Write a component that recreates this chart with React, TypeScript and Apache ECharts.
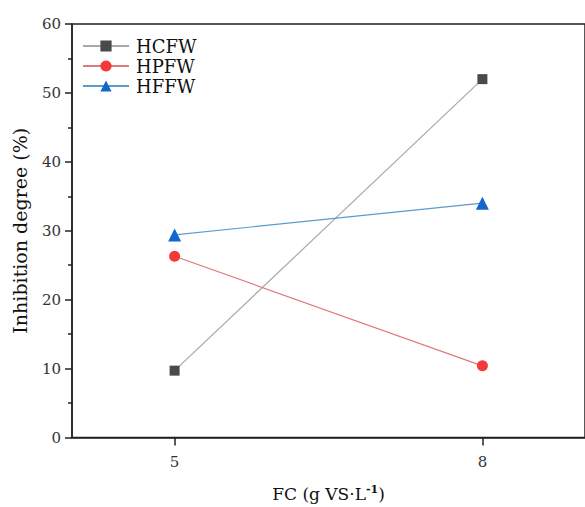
import React, { useEffect, useRef } from "react";
import * as echarts from "echarts";

const xValues = [5, 8];
const hcfw = [9.7, 52.0];
const hpfw = [26.3, 10.4];
const hffw = [29.4, 34.0];
const seriesNames = ["HCFW", "HPFW", "HFFW"];
const xTickValues = [5, 8];

const FONT = "DejaVu Serif";

export default function App() {
  const ref = useRef<HTMLDivElement>(null);
  useEffect(() => {
    if (!ref.current) return;
    const chart = echarts.init(ref.current, null, { renderer: "svg" });
    const pairs = (ys: number[]) => xValues.map((x, i) => [x, ys[i]]);
    chart.setOption({
      animation: false,
      backgroundColor: "#ffffff",
      textStyle: { fontFamily: FONT },
      grid: {
        left: 72,
        top: 24,
        width: 524,
        height: 422,
        show: true,
        borderColor: "#222",
        borderWidth: 1.5,
        backgroundColor: "transparent",
      },
      legend: {
        left: 82,
        top: 37,
        padding: 0,
        orient: "vertical",
        itemWidth: 46,
        itemHeight: 14,
        itemGap: 2,
        data: seriesNames,
        textStyle: { fontFamily: FONT, fontSize: 18, color: "#111", padding: [0, 0, 0, 2] },
      },
      xAxis: {
        type: "value",
        min: 4,
        max: 9,
        interval: 1,
        name: "FC (g VS·L{sup|-1})",
        nameLocation: "middle",
        nameGap: 46,
        nameTextStyle: {
          fontFamily: FONT,
          fontSize: 17,
          color: "#111",
          rich: {
            sup: { fontFamily: FONT, fontSize: 11, fontWeight: "bold", color: "#111", verticalAlign: "top", padding: [0, 0, 9, 0] },
          },
        },
        axisLine: { show: true, lineStyle: { color: "#222", width: 1.5 } },
        axisTick: { show: true, length: 8, customValues: xTickValues, lineStyle: { color: "#222", width: 1.5 } },
        axisLabel: { customValues: xTickValues, fontFamily: FONT, fontSize: 15, color: "#333", margin: 17 },
        splitLine: { show: false },
      },
      yAxis: {
        type: "value",
        min: 0,
        max: 60,
        interval: 10,
        name: "Inhibition degree (%)",
        nameLocation: "middle",
        nameGap: 43,
        nameTextStyle: { fontFamily: FONT, fontSize: 19, color: "#111" },
        axisLine: { show: true, lineStyle: { color: "#222", width: 1.5 } },
        axisTick: { show: true, length: 7, lineStyle: { color: "#222", width: 1.5 } },
        minorTick: { show: true, splitNumber: 2, length: 4, lineStyle: { color: "#222", width: 1.5 } },
        axisLabel: { fontFamily: FONT, fontSize: 15, color: "#333", margin: 11 },
        splitLine: { show: false },
      },
      series: [
        {
          name: seriesNames[0],
          type: "line",
          data: pairs(hcfw),
          symbol: "rect",
          symbolSize: 10,
          itemStyle: { color: "#4a4a4a" },
          lineStyle: { color: "#a8a8a8", width: 1.2 },
        },
        {
          name: seriesNames[1],
          type: "line",
          data: pairs(hpfw),
          symbol: "circle",
          symbolSize: 11,
          itemStyle: { color: "#f23a3a" },
          lineStyle: { color: "#e07a7a", width: 1.2 },
        },
        {
          name: seriesNames[2],
          type: "line",
          data: pairs(hffw),
          symbol: "triangle",
          symbolSize: 13,
          itemStyle: { color: "#1366cc" },
          lineStyle: { color: "#5a9ccc", width: 1.2 },
        },
      ],
    });
    return () => chart.dispose();
  }, []);
  return (
    <div
      ref={ref}
      style={{ position: "fixed", left: 0, top: 0, width: 585, height: 507 }}
    />
  );
}
